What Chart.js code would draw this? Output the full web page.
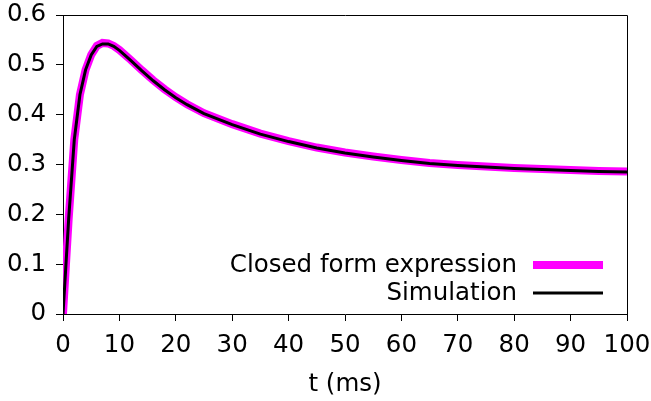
<!DOCTYPE html>
<html>
<head>
<meta charset="utf-8">
<script src="https://cdn.jsdelivr.net/npm/chart.js@4/dist/chart.umd.min.js"></script>
<style>
  html, body { margin: 0; padding: 0; background: #fff; }
  #wrap { width: 651px; height: 401px; }
</style>
</head>
<body>
<div id="wrap"><canvas id="respChart" width="651" height="401"></canvas></div>
<script>
// time samples (ms) and the two traces
const times = [0, 1, 2, 3, 4, 5, 6, 7, 8, 9, 10, 12, 14, 16, 18, 20, 22, 25, 30, 35, 40, 45, 50, 55, 60, 65, 70, 75, 80, 85, 90, 95, 100];
const closedForm = [0, 0.19, 0.35, 0.44, 0.49, 0.52, 0.538, 0.544, 0.543, 0.538, 0.53, 0.51, 0.489, 0.469, 0.451, 0.435, 0.421, 0.403, 0.381, 0.362, 0.347, 0.334, 0.324, 0.316, 0.309, 0.303, 0.299, 0.296, 0.293, 0.291, 0.289, 0.287, 0.286];
const simulation = [0, 0.19, 0.35, 0.44, 0.49, 0.52, 0.537, 0.542, 0.542, 0.537, 0.529, 0.509, 0.488, 0.468, 0.45, 0.434, 0.42, 0.402, 0.38, 0.361, 0.346, 0.333, 0.323, 0.315, 0.308, 0.302, 0.298, 0.295, 0.292, 0.29, 0.288, 0.286, 0.285];

const xTicks = [0, 10, 20, 30, 40, 50, 60, 70, 80, 90, 100];
const yTicks = [0, 0.1, 0.2, 0.3, 0.4, 0.5, 0.6];
const yTickLabels = ["0", "0.1", "0.2", "0.3", "0.4", "0.5", "0.6"];

const FONT = "'DejaVu Sans', sans-serif";
const FSIZE = 24.5;

function toPoints(ys) {
    return times.map((t, i) => ({ x: t, y: ys[i] }));
}

// top + right border of the plot frame
const framePlugin = {
    id: "frame",
    afterDatasetsDraw(chart) {
        const a = chart.chartArea;
        const ctx = chart.ctx;
        ctx.save();
        ctx.strokeStyle = "#000";
        ctx.lineWidth = 1;
        ctx.beginPath();
        ctx.moveTo(Math.round(a.left) + 0.5, Math.round(a.top) + 0.5);
        ctx.lineTo(Math.round(a.right) + 0.5, Math.round(a.top) + 0.5);
        ctx.lineTo(Math.round(a.right) + 0.5, Math.round(a.bottom) + 0.5);
        ctx.stroke();
        ctx.restore();
    }
};

// legend sitting inside the plot, bottom right
const insideLegend = {
    id: "insideLegend",
    afterDraw(chart) {
        const ctx = chart.ctx;
        const rows = [
            { ds: chart.data.datasets[0], y: 266 },
            { ds: chart.data.datasets[1], y: 294 }
        ];
        ctx.save();
        ctx.font = FSIZE + "px " + FONT;
        ctx.fillStyle = "#000";
        ctx.textAlign = "right";
        ctx.textBaseline = "middle";
        rows.forEach(r => {
            ctx.fillText(r.ds.label, 517, r.y);
            ctx.strokeStyle = r.ds.borderColor;
            ctx.lineWidth = r.ds.borderWidth;
            ctx.beginPath();
            ctx.moveTo(533, r.y - 1);
            ctx.lineTo(603, r.y - 1);
            ctx.stroke();
        });
        ctx.restore();
    }
};

const ctx = document.getElementById("respChart").getContext("2d");

const respChart = new Chart(ctx, {
    type: "line",
    data: {
        datasets: [{
            label: "Closed form expression",
            data: toPoints(closedForm),
            borderColor: "#ff00ff",
            borderWidth: 8,
            pointRadius: 0,
            tension: 0,
            order: 1
        }, {
            label: "Simulation",
            data: toPoints(simulation),
            borderColor: "#000000",
            borderWidth: 3,
            pointRadius: 0,
            tension: 0,
            order: 0
        }]
    },
    options: {
        responsive: false,
        animation: false,
        layout: { autoPadding: false, padding: { left: 0, right: 24, top: 15, bottom: 0 } },
        plugins: {
            legend: { display: false },
            tooltip: { enabled: false }
        },
        scales: {
            x: {
                type: "linear",
                min: 0,
                max: 100,
                afterBuildTicks: s => { s.ticks = xTicks.map(v => ({ value: v })); },
                afterFit: s => { s.height = 87; s.paddingLeft = 0; s.paddingRight = 0; },
                grid: { drawOnChartArea: false, tickLength: 7, tickColor: "#000" },
                border: { color: "#000", width: 1 },
                ticks: { color: "#000", font: { family: FONT, size: FSIZE }, padding: 10, maxRotation: 0 },
                title: {
                    display: true,
                    text: "t (ms)",
                    color: "#000",
                    font: { family: FONT, size: FSIZE },
                    padding: { top: 0, bottom: 2 }
                }
            },
            y: {
                min: 0,
                max: 0.6,
                afterBuildTicks: s => { s.ticks = yTicks.map(v => ({ value: v })); },
                afterFit: s => { s.width = 63; s.paddingTop = 0; s.paddingBottom = 0; },
                grid: { drawOnChartArea: false, tickLength: 7, tickColor: "#000" },
                border: { color: "#000", width: 1 },
                ticks: {
                    color: "#000",
                    font: { family: FONT, size: FSIZE },
                    padding: 10,
                    callback: (v) => yTickLabels[yTicks.indexOf(v)] ?? ""
                }
            }
        }
    },
    plugins: [framePlugin, insideLegend]
});
</script>
</body>
</html>
